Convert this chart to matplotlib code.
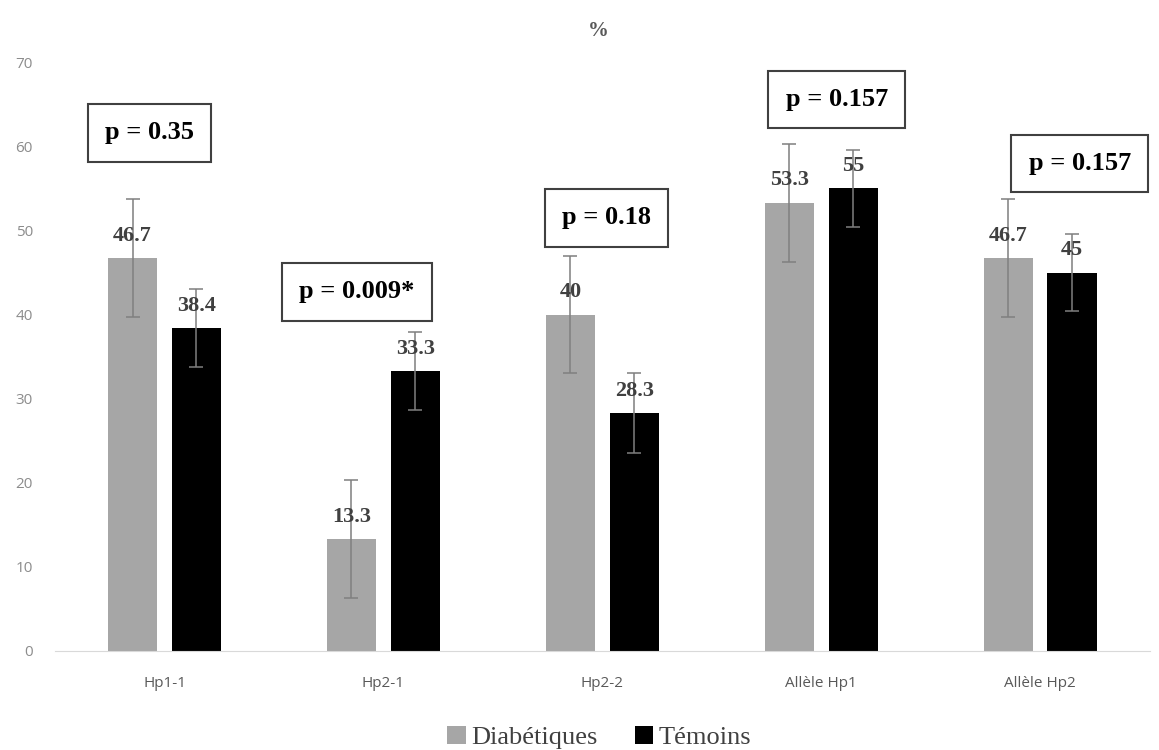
import numpy as np
import matplotlib
matplotlib.use("Agg")
import matplotlib.pyplot as plt

# values
categories = ["Hp1-1", "Hp2-1", "Hp2-2", "Allèle Hp1", "Allèle Hp2"]
diabetiques = [46.7, 13.3, 40, 53.3, 46.7]
temoins = [38.4, 33.3, 28.3, 55, 45]
err_diab = [7.0, 7.0, 7.0, 7.0, 7.0]
err_tem = [4.6, 4.6, 4.7, 4.6, 4.6]
p_labels = ["p = 0.35", "p = 0.009*", "p = 0.18", "p = 0.157", "p = 0.157"]
p_y = [61.6, 42.7, 51.5, 65.6, 58.0]
p_dx = [-0.07, -0.12, 0.02, 0.07, 0.18]

serif = "Liberation Serif"
sans = "Open Sans"

fig = plt.figure(figsize=(11.59, 7.5), dpi=100)
ax = fig.add_axes([0.0475, 0.132, 0.9445, 0.785])

x = np.arange(len(categories))
w = 0.226
off = 0.146
ekw = dict(ecolor="#7f7f7f", capsize=5, elinewidth=1.1, capthick=1.1)

b1 = ax.bar(x - off, diabetiques, w, color="#a6a6a6", label="Diabétiques",
            yerr=err_diab, error_kw=ekw)
b2 = ax.bar(x + off, temoins, w, color="#000000", label="Témoins",
            yerr=err_tem, error_kw=ekw)

for bars, vals in ((b1, diabetiques), (b2, temoins)):
    for rect, v in zip(bars, vals):
        ax.annotate(f"{v:g}", (rect.get_x() + rect.get_width() / 2, v),
                    xytext=(0, 16), textcoords="offset points", ha="center", va="center",
                    fontsize=16, fontweight="bold", color="#404040", family=serif, zorder=5)

for i, (lab, yy, dx) in enumerate(zip(p_labels, p_y, p_dx)):
    ax.text(i + dx, yy, lab, ha="center", va="center", fontsize=19, fontweight="bold",
            family=serif, color="black",
            bbox=dict(boxstyle="square,pad=0.65", fc="white", ec="#404040", lw=1.5))

ax.set_xlim(-0.5, len(categories) - 0.5)
ax.set_ylim(0, 70)
ax.set_yticks(range(0, 71, 10))
ax.set_xticks(x)
ax.set_xticklabels(categories, fontsize=11, color="#595959", family=sans)
ax.tick_params(axis="y", labelsize=11, labelcolor="#8c8c8c", length=0, pad=16)
ax.tick_params(axis="x", length=0, pad=18)
for lbl in ax.get_yticklabels():
    lbl.set_family(sans)
for s in ("top", "right", "left"):
    ax.spines[s].set_visible(False)
ax.spines["bottom"].set_color("#d9d9d9")

fig.text(0.516, 0.958, "%", ha="center", va="center", fontsize=15, fontweight="bold",
         color="#595959", family=serif)

fig.legend(handles=[b1, b2], labels=["Diabétiques", "Témoins"], loc="center",
           bbox_to_anchor=(0.517, 0.017), ncol=2, frameon=False, handlelength=0.7,
           handleheight=0.7, handletextpad=0.2, columnspacing=1.4,
           prop=dict(family=serif, size=19))
for t in fig.legends[0].get_texts():
    t.set_color("#404040")

fig.savefig("out.png", dpi=100)
